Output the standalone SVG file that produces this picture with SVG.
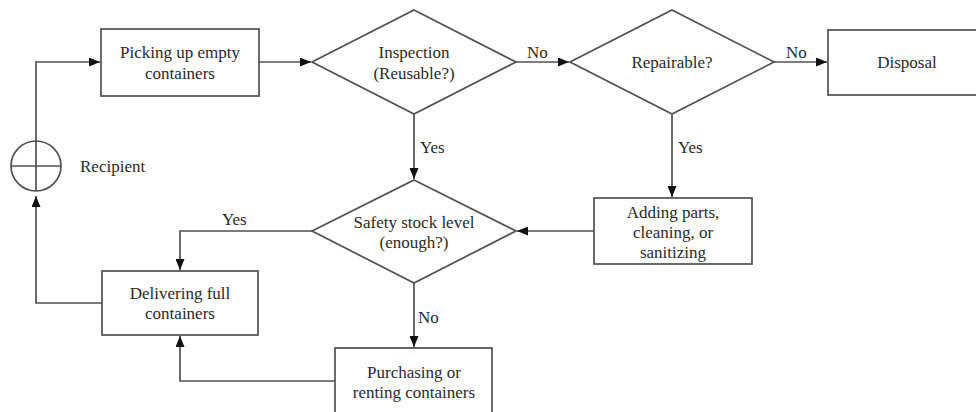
<svg xmlns="http://www.w3.org/2000/svg" width="976" height="412" viewBox="0 0 976 412">
  <style>
    .shape { fill: #ffffff; stroke: #505050; stroke-width: 1.7; }
    .edge { fill: none; stroke: #505050; stroke-width: 1.7; }
    .label { font-family: "Liberation Serif", "Times New Roman", serif; font-size: 17px; fill: #2a2a2a; text-anchor: middle; }
    .tag { font-family: "Liberation Serif", "Times New Roman", serif; font-size: 17px; fill: #2a2a2a; }
  </style>
  <defs>
    <marker id="arrow" viewBox="0 0 11 9" refX="11" refY="4.5" markerWidth="11" markerHeight="9" markerUnits="userSpaceOnUse" orient="auto">
      <path d="M0,0 L11,4.5 L0,9 Z" fill="#111111"/>
    </marker>
  </defs>
  <rect width="976" height="412" fill="#ffffff"/>

  <!-- connectors -->
  <g id="connectors">
    <path class="edge" d="M259,62 L311,62" marker-end="url(#arrow)"/>
    <path class="edge" d="M516,62 L569,62" marker-end="url(#arrow)"/>
    <path class="edge" d="M774,62 L827,62" marker-end="url(#arrow)"/>
    <path class="edge" d="M414,114 L414,179" marker-end="url(#arrow)"/>
    <path class="edge" d="M672,114 L672,197" marker-end="url(#arrow)"/>
    <path class="edge" d="M594,231 L517,231" marker-end="url(#arrow)"/>
    <path class="edge" d="M312,231 L180,231 L180,270" marker-end="url(#arrow)"/>
    <path class="edge" d="M414,283 L414,347" marker-end="url(#arrow)"/>
    <path class="edge" d="M335,381 L180,381 L180,336" marker-end="url(#arrow)"/>
    <path class="edge" d="M102,303 L36,303 L36,196" marker-end="url(#arrow)"/>
    <path class="edge" d="M36,141 L36,62 L100,62" marker-end="url(#arrow)"/>
    <text class="tag" x="527" y="58">No</text>
    <text class="tag" x="786" y="58">No</text>
    <text class="tag" x="420" y="153">Yes</text>
    <text class="tag" x="678" y="153">Yes</text>
    <text class="tag" x="222" y="225">Yes</text>
    <text class="tag" x="418" y="323">No</text>
  </g>

  <g id="recipient">
    <circle class="edge" cx="36" cy="166" r="25"/>
    <path class="edge" d="M11,166 L61,166 M36,141 L36,191"/>
    <text class="tag" x="80" y="172">Recipient</text>
  </g>

  <g id="pickup">
    <rect class="shape" x="101" y="29" width="158" height="67"/>
    <text class="label" x="180" y="58">Picking up empty</text>
    <text class="label" x="180" y="79">containers</text>
  </g>

  <g id="inspection">
    <polygon class="shape" points="414,10 516,62 414,114 312,62"/>
    <text class="label" x="414" y="58">Inspection</text>
    <text class="label" x="414" y="79">(Reusable?)</text>
  </g>

  <g id="repairable">
    <polygon class="shape" points="672,10 774,62 672,114 570,62"/>
    <text class="label" x="672" y="68">Repairable?</text>
  </g>

  <g id="disposal">
    <rect class="shape" x="828" y="30" width="160" height="65"/>
    <text class="label" x="907" y="68">Disposal</text>
  </g>

  <g id="repair">
    <rect class="shape" x="594" y="198" width="158" height="66"/>
    <text class="label" x="673" y="218">Adding parts,</text>
    <text class="label" x="673" y="238">cleaning, or</text>
    <text class="label" x="673" y="258">sanitizing</text>
  </g>

  <g id="safety">
    <polygon class="shape" points="414,180 516,231 414,283 312,231"/>
    <text class="label" x="414" y="228">Safety stock level</text>
    <text class="label" x="414" y="248">(enough?)</text>
  </g>

  <g id="delivering">
    <rect class="shape" x="102" y="271" width="156" height="64"/>
    <text class="label" x="180" y="299">Delivering full</text>
    <text class="label" x="180" y="319">containers</text>
  </g>

  <g id="purchasing">
    <rect class="shape" x="335" y="348" width="157" height="70"/>
    <text class="label" x="414" y="378">Purchasing or</text>
    <text class="label" x="414" y="398">renting containers</text>
  </g>
</svg>
